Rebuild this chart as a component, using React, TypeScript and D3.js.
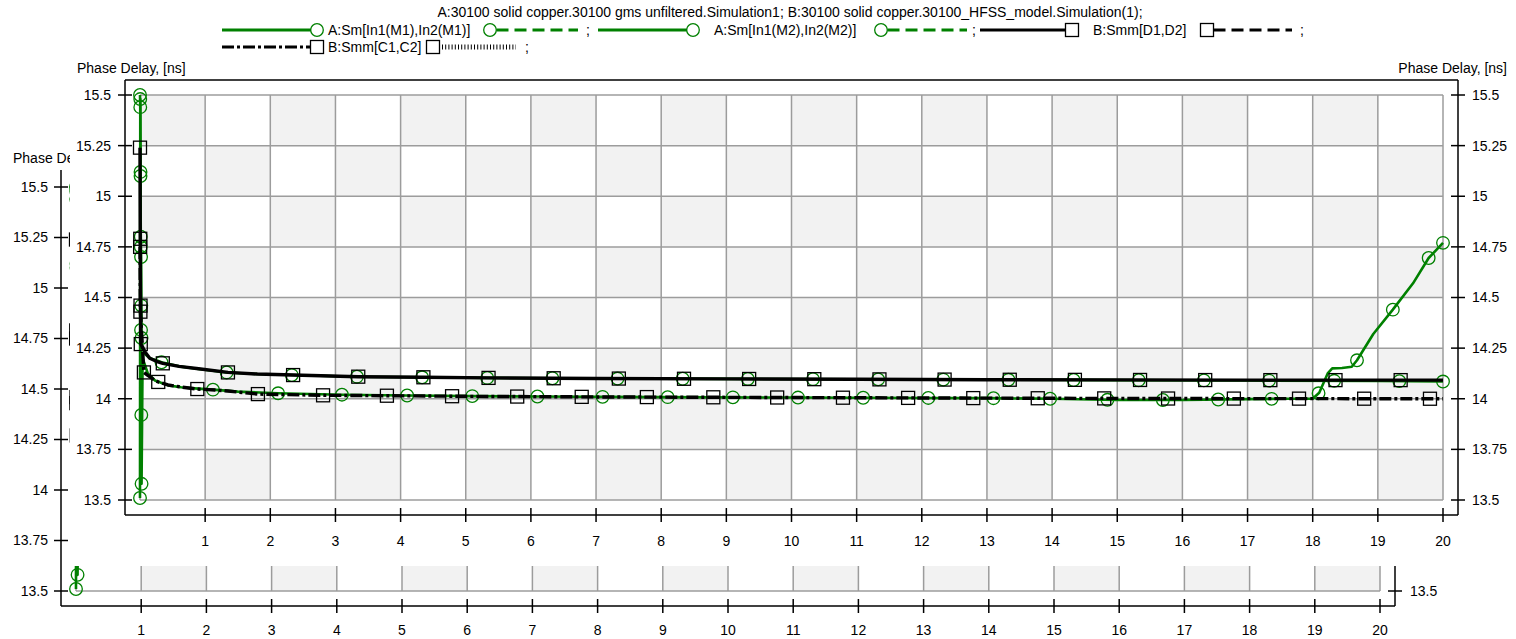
import React from "react";
import * as d3 from "d3";

// ---- axis ticks ----
const xTickValues = [1, 2, 3, 4, 5, 6, 7, 8, 9, 10, 11, 12, 13, 14, 15, 16, 17, 18, 19, 20];
const yTickValues = [13.5, 13.75, 14, 14.25, 14.5, 14.75, 15, 15.25, 15.5];
const yTickLabels = ["13.5", "13.75", "14", "14.25", "14.5", "14.75", "15", "15.25", "15.5"];

const titleText =
  "A:30100 solid copper.30100 gms unfiltered.Simulation1; B:30100 solid copper.30100_HFSS_model.Simulation(1);";
const axisTitle = "Phase Delay, [ns]";
const seriesNames = ["A:Sm[In1(M1),In2(M1)]", "A:Sm[In1(M2),In2(M2)]", "B:Smm[D1,D2]", "B:Smm[C1,C2]"];

// ---- A: Sm[In1(M1),In2(M1)] ----
const m1Freq = [0, 0.004, 0.008, 0.012, 0.016, 0.02, 0.024, 0.03, 0.08, 0.15, 0.25, 0.33, 0.6, 0.9, 1.33, 1.8, 2.33, 3.33, 4.33, 5.33, 7, 9, 11, 13, 15, 17, 19, 20];
const m1Delay = [15.5, 15.44, 15.12, 14.8, 14.7, 14.46, 14.3, 14.26, 14.22, 14.2, 14.19, 14.18, 14.16, 14.147, 14.13, 14.122, 14.117, 14.109, 14.106, 14.103, 14.1, 14.098, 14.096, 14.094, 14.092, 14.09, 14.088, 14.085];
const m1Marks = [0, 0.004, 0.008, 0.012, 0.016, 0.02, 0.024, 0.33, 1.33, 2.33, 3.33, 4.33, 5.33, 6.33, 7.33, 8.33, 9.33, 10.33, 11.33, 12.33, 13.33, 14.33, 15.33, 16.33, 17.33, 18.33, 19.33, 20];

// ---- A: Sm[In1(M2),In2(M2)] ----
const m2Freq = [0, 0.004, 0.008, 0.012, 0.016, 0.02, 0.024, 0.04, 0.12, 0.23, 0.43, 0.63, 0.89, 1.12, 1.5, 2.12, 3.1, 4.1, 5.1, 6.1, 8, 10, 12, 13, 14, 15, 16, 17, 17.5, 18.0, 18.1, 18.23, 18.3, 18.45, 18.6, 18.68, 18.93, 19.23, 19.54, 19.78, 20];
const m2Delay = [13.51, 15.48, 15.1, 14.75, 14.34, 13.92, 13.58, 14.2, 14.125, 14.09, 14.066, 14.057, 14.05, 14.045, 14.035, 14.027, 14.02, 14.016, 14.013, 14.011, 14.008, 14.006, 14.004, 14.003, 14.0, 13.994, 13.994, 13.998, 14.0, 14.0, 14.03, 14.125, 14.15, 14.152, 14.158, 14.19, 14.32, 14.44, 14.57, 14.695, 14.77];
const m2Marks = [0, 0.004, 0.008, 0.012, 0.016, 0.02, 0.024, 1.12, 2.12, 3.1, 4.1, 5.1, 6.1, 7.1, 8.1, 9.1, 10.1, 11.1, 12.1, 13.1, 13.97, 14.85, 15.7, 16.55, 17.37, 18.09, 18.68, 19.23, 19.78, 20];

// ---- B: Smm[D1,D2] ----
const d12Freq = [0, 0.004, 0.008, 0.012, 0.03, 0.08, 0.15, 0.25, 0.35, 0.6, 0.9, 1.35, 1.8, 2.35, 3.35, 4.35, 5.35, 7, 9, 11, 13, 15, 17, 19, 20];
const d12Delay = [15.24, 14.79, 14.46, 14.27, 14.26, 14.23, 14.2, 14.185, 14.175, 14.16, 14.148, 14.13, 14.122, 14.117, 14.109, 14.106, 14.103, 14.1, 14.098, 14.096, 14.094, 14.093, 14.092, 14.092, 14.092];
const d12Marks = [0, 0.004, 0.008, 0.012, 0.35, 1.35, 2.35, 3.35, 4.35, 5.35, 6.35, 7.35, 8.35, 9.35, 10.35, 11.35, 12.35, 13.35, 14.35, 15.35, 16.35, 17.35, 18.35, 19.35];

// ---- B: Smm[C1,C2] ----
const c12Freq = [0.002, 0.006, 0.06, 0.12, 0.23, 0.28, 0.43, 0.63, 0.88, 1.15, 1.35, 1.81, 2.81, 3.79, 5, 7, 10, 13, 16, 20];
const c12Delay = [14.75, 14.43, 14.13, 14.115, 14.09, 14.083, 14.068, 14.058, 14.048, 14.043, 14.038, 14.023, 14.017, 14.015, 14.012, 14.009, 14.006, 14.003, 14.001, 14.0];
const c12Marks = [0.002, 0.006, 0.06, 0.28, 0.88, 1.81, 2.81, 3.79, 4.79, 5.79, 6.78, 7.78, 8.8, 9.78, 10.79, 11.79, 12.79, 13.78, 14.8, 15.78, 16.79, 17.79, 18.79, 19.8];

const GREEN = "#008000";
const BLACK = "#000000";
const FONT = "'Liberation Sans', Arial, sans-serif";

type Series = {
  name: string;
  freq: number[];
  delay: number[];
  marks: number[];
  color: string;
  width: number;
  dash?: string;
  marker: "circle" | "square";
};

const series: Series[] = [
  { name: seriesNames[0], freq: m1Freq, delay: m1Delay, marks: m1Marks, color: GREEN, width: 2.6, marker: "circle" },
  { name: seriesNames[1], freq: m2Freq, delay: m2Delay, marks: m2Marks, color: GREEN, width: 2.6, marker: "circle" },
  { name: seriesNames[2], freq: d12Freq, delay: d12Delay, marks: d12Marks, color: BLACK, width: 3.4, marker: "square" },
  { name: seriesNames[3], freq: c12Freq, delay: c12Delay, marks: c12Marks, color: BLACK, width: 3.4, dash: "12,3,3,3", marker: "square" },
];

function valueAt(freq: number[], delay: number[], f: number): number {
  const i = d3.bisectLeft(freq, f);
  if (i < freq.length && freq[i] === f) return delay[i];
  if (i <= 0) return delay[0];
  if (i >= freq.length) return delay[freq.length - 1];
  const t = (f - freq[i - 1]) / (freq[i] - freq[i - 1]);
  return delay[i - 1] + t * (delay[i] - delay[i - 1]);
}

function Marker({ kind, cx, cy, color }: { kind: string; cx: number; cy: number; color: string }) {
  if (kind === "circle") {
    return <circle cx={cx} cy={cy} r={6.3} fill="none" stroke={color} strokeWidth={1.3} />;
  }
  return <rect x={cx - 6.5} y={cy - 6.5} width={13} height={13} fill="none" stroke={color} strokeWidth={1.3} />;
}

type Geometry = {
  x: d3.ScaleLinear<number, number>;
  y: d3.ScaleLinear<number, number>;
  left: number;
  right: number;
  top: number;
  bottom: number;
};

function PlotBody({ g, id }: { g: Geometry; id: string }) {
  const { x, y } = g;
  const cells: JSX.Element[] = [];
  const rows = yTickValues.length - 1;
  for (let i = 0; i < 20; i++) {
    for (let j = 0; j < rows; j++) {
      if ((i + j) % 2 !== 0) continue;
      const yTop = y(yTickValues[rows - j]);
      const yBot = y(yTickValues[rows - j - 1]);
      cells.push(
        <rect key={`${id}-c-${i}-${j}`} x={x(i)} y={yTop} width={x(i + 1) - x(i)} height={yBot - yTop} fill="#f2f2f2" />
      );
    }
  }
  const [x0, x1] = x.range();
  const [y0, y1] = y.range();
  const line = (s: Series) =>
    d3
      .line<number>()
      .x((_, k) => x(s.freq[k]))
      .y((d) => y(d))(s.delay) || "";
  return (
    <g>
      {cells}
      {[0, ...xTickValues].map((v) => (
        <line key={`${id}-gx-${v}`} x1={x(v)} x2={x(v)} y1={y1} y2={y0} stroke="#9c9c9c" strokeWidth={1.5} />
      ))}
      {yTickValues.map((v) => (
        <line key={`${id}-gy-${v}`} x1={x0} x2={x1} y1={y(v)} y2={y(v)} stroke="#9c9c9c" strokeWidth={1.5} />
      ))}
      {series.map((s, si) => (
        <g key={`${id}-s-${si}`}>
          <path d={line(s)} fill="none" stroke={s.color} strokeWidth={s.width} strokeDasharray={s.dash} strokeLinejoin="round" />
          {s.marks.map((f, mi) => (
            <Marker key={mi} kind={s.marker} cx={x(f)} cy={y(valueAt(s.freq, s.delay, f))} color={s.color} />
          ))}
        </g>
      ))}
    </g>
  );
}

function LeftAxis({ g, labelX }: { g: Geometry; labelX: number }) {
  return (
    <g>
      <line x1={g.left} x2={g.left} y1={g.top} y2={g.bottom} stroke="#000" strokeWidth={1.5} />
      {yTickValues.map((v, k) => (
        <g key={v}>
          <line x1={g.left - 7} x2={g.left + 7} y1={g.y(v)} y2={g.y(v)} stroke="#000" strokeWidth={1.5} />
          <text x={labelX} y={g.y(v)} dy="0.35em" textAnchor="end" fontSize={14} fontFamily={FONT}>
            {yTickLabels[k]}
          </text>
        </g>
      ))}
    </g>
  );
}

function BottomAxis({ g, labelY }: { g: Geometry; labelY: number }) {
  return (
    <g>
      <line x1={g.left} x2={g.right} y1={g.bottom} y2={g.bottom} stroke="#000" strokeWidth={1.5} />
      {xTickValues.map((v) => (
        <g key={v}>
          <line x1={g.x(v)} x2={g.x(v)} y1={g.bottom - 7} y2={g.bottom + 7} stroke="#000" strokeWidth={1.5} />
          <text x={g.x(v)} y={labelY} textAnchor="middle" fontSize={14} fontFamily={FONT}>
            {v}
          </text>
        </g>
      ))}
    </g>
  );
}

function RightAxis({ g, labelX, values }: { g: Geometry; labelX: number; values: number[] }) {
  return (
    <g>
      <line x1={g.right} x2={g.right} y1={g.top} y2={g.bottom} stroke="#000" strokeWidth={1.5} />
      {values.map((v) => (
        <g key={v}>
          <line x1={g.right - 7} x2={g.right + 7} y1={g.y(v)} y2={g.y(v)} stroke="#000" strokeWidth={1.5} />
          <text x={labelX} y={g.y(v)} dy="0.35em" textAnchor="start" fontSize={14} fontFamily={FONT}>
            {yTickLabels[yTickValues.indexOf(v)]}
          </text>
        </g>
      ))}
    </g>
  );
}

function LegendEntry({
  s,
  y,
  lineStart,
  markX,
  textX,
  mark2X,
  dashEnd,
  semiX,
  second,
}: {
  s: Series;
  y: number;
  lineStart: number;
  markX: number;
  textX: number;
  mark2X: number;
  dashEnd: number;
  semiX: number;
  second: string;
}) {
  return (
    <g>
      <line x1={lineStart} x2={markX - 6} y1={y} y2={y} stroke={s.color} strokeWidth={3.2} strokeDasharray={s.dash} />
      <Marker kind={s.marker} cx={markX} cy={y} color={s.color} />
      <text x={textX} y={y} dy="0.35em" fontSize={14} fontFamily={FONT}>
        {s.name}
      </text>
      <Marker kind={s.marker} cx={mark2X} cy={y} color={s.color} />
      {second === "dot" ? (
        <line x1={mark2X + 9} x2={dashEnd} y1={y} y2={y} stroke={s.color} strokeWidth={5} strokeDasharray="1,2.2" />
      ) : (
        <line x1={mark2X + 6.5} x2={dashEnd} y1={y} y2={y} stroke={s.color} strokeWidth={3.2} strokeDasharray="12,6" />
      )}
      <text x={semiX} y={y} dy="0.35em" fontSize={14} fontFamily={FONT}>
        ;
      </text>
    </g>
  );
}

export default function App() {
  const back: Geometry = {
    x: d3.scaleLinear().domain([0, 20]).range([76, 1380]),
    y: d3.scaleLinear().domain([13.5, 15.5]).range([591, 187]),
    left: 61,
    right: 1395,
    top: 170,
    bottom: 606,
  };
  const front: Geometry = {
    x: d3.scaleLinear().domain([0, 20]).range([140, 1443]),
    y: d3.scaleLinear().domain([13.5, 15.5]).range([500, 95]),
    left: 125,
    right: 1458,
    top: 80,
    bottom: 515,
  };

  return (
    <div style={{ position: "fixed", left: 0, top: 0 }}>
      <svg width={1516} height={639} style={{ display: "block", background: "#fff" }}>
        <defs>
          <clipPath id="back-title-clip">
            <rect x={0} y={140} width={70} height={30} />
          </clipPath>
        </defs>
        {/* plot window underneath */}
        <g>
          <PlotBody g={back} id="back" />
          <LeftAxis g={back} labelX={48} />
          <BottomAxis g={back} labelY={635} />
          <RightAxis g={back} labelX={1410} values={[13.5]} />
          <text x={13} y={163} fontSize={14} fontFamily={FONT} clipPath="url(#back-title-clip)">
            {axisTitle.slice(0, 8)}
          </text>
        </g>

        {/* active plot window */}
        <rect x={70} y={0} width={1446} height={566} fill="#fff" />
        <g>
          <text x={790} y={12} dy="0.35em" textAnchor="middle" fontSize={14} fontFamily={FONT}>
            {titleText}
          </text>
          <LegendEntry s={series[0]} y={30} lineStart={222} markX={317} textX={328} mark2X={490} dashEnd={578} semiX={586} second="dash" />
          <LegendEntry s={series[1]} y={30} lineStart={598} markX={693} textX={714} mark2X={881} dashEnd={967} semiX={972} second="dash" />
          <LegendEntry s={series[2]} y={30} lineStart={980} markX={1072} textX={1093} mark2X={1207} dashEnd={1292} semiX={1300} second="dash" />
          <LegendEntry s={series[3]} y={47} lineStart={222} markX={317} textX={328} mark2X={433} dashEnd={516} semiX={525} second="dot" />

          <text x={77} y={68} dy="0.35em" fontSize={14} fontFamily={FONT}>
            {axisTitle}
          </text>
          <text x={1507} y={68} dy="0.35em" textAnchor="end" fontSize={14} fontFamily={FONT}>
            {axisTitle}
          </text>

          <line x1={front.left} x2={front.right} y1={front.top} y2={front.top} stroke="#000" strokeWidth={1.5} />
          <PlotBody g={front} id="front" />
          <LeftAxis g={front} labelX={111} />
          <BottomAxis g={front} labelY={546} />
          <RightAxis g={front} labelX={1472} values={yTickValues} />
        </g>
      </svg>
    </div>
  );
}
